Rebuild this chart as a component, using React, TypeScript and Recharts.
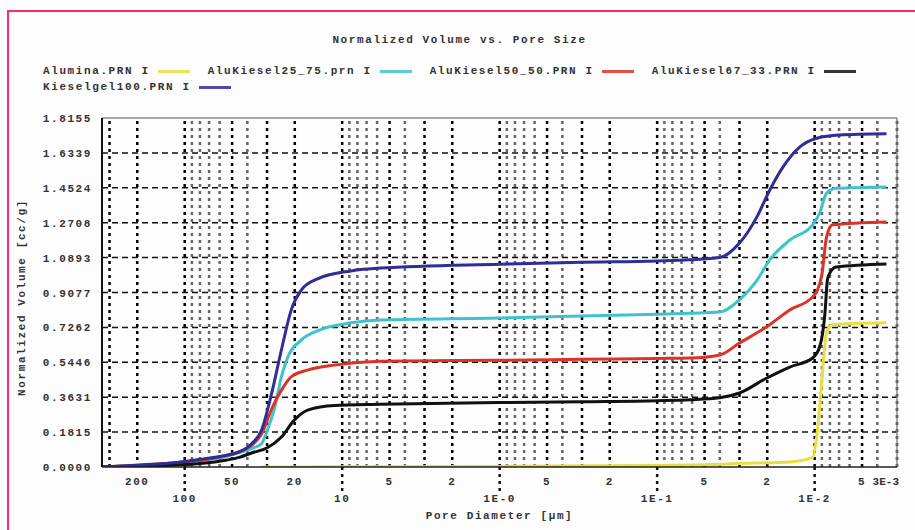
import { LineChart, Line, XAxis, YAxis, ReferenceLine, Legend } from "recharts";

const FONT = '"Liberation Mono", "DejaVu Sans Mono", monospace';

// x axis: pore diameter in µm, log scale, reversed
const X_TICKS = [200, 100, 50, 20, 10, 5, 2, 1, 0.5, 0.2, 0.1, 0.05, 0.02, 0.01, 0.005, 0.003];
const X_LABELS = ["200", "100", "50", "20", "10", "5", "2", "1E-0", "5", "2", "1E-1", "5", "2", "1E-2", "5", "3E-3"];
const X_DECADES = [100, 10, 1, 0.1, 0.01];
const X_DOMAIN = [0.003, 335];

const Y_TICKS = [0, 0.1815, 0.3631, 0.5446, 0.7262, 0.9077, 1.0893, 1.2708, 1.4524, 1.6339, 1.8155];
const Y_LABELS = ["0.0000", "0.1815", "0.3631", "0.5446", "0.7262", "0.9077", "1.0893", "1.2708", "1.4524", "1.6339", "1.8155"];

const GRID_STEPS = [1, 2, 3, 4, 5, 6, 7, 8, 9];
const GRID_DECADES = [100, 10, 1, 0.1, 0.01, 0.001];
const GRID_DARK = [1, 2, 3, 5];

const alumina = [
  { d: 32, v: 0 }, { d: 10, v: 0.001 }, { d: 1, v: 0.003 }, { d: 0.1, v: 0.008 },
  { d: 0.05, v: 0.012 }, { d: 0.03, v: 0.018 }, { d: 0.0144, v: 0.026 }, { d: 0.0103, v: 0.05 },
  { d: 0.0096, v: 0.19 }, { d: 0.009, v: 0.45 }, { d: 0.0084, v: 0.7 }, { d: 0.0077, v: 0.74 },
  { d: 0.0035, v: 0.75 },
];

const kiesel25 = [
  { d: 335, v: 0 }, { d: 250, v: 0.004 }, { d: 180, v: 0.01 }, { d: 126, v: 0.017 },
  { d: 80, v: 0.033 }, { d: 55, v: 0.055 }, { d: 45, v: 0.075 }, { d: 38, v: 0.095 },
  { d: 32.6, v: 0.12 }, { d: 29.9, v: 0.19 }, { d: 26.8, v: 0.31 }, { d: 24.3, v: 0.47 },
  { d: 22.2, v: 0.57 }, { d: 18.2, v: 0.66 }, { d: 14.2, v: 0.71 }, { d: 8.8, v: 0.75 },
  { d: 5.7, v: 0.765 }, { d: 1, v: 0.775 }, { d: 0.3, v: 0.785 }, { d: 0.1, v: 0.795 },
  { d: 0.062, v: 0.8 }, { d: 0.04, v: 0.806 }, { d: 0.03, v: 0.87 }, { d: 0.0233, v: 0.97 },
  { d: 0.0193, v: 1.077 }, { d: 0.0144, v: 1.18 }, { d: 0.0103, v: 1.26 }, { d: 0.0093, v: 1.32 },
  { d: 0.0084, v: 1.425 }, { d: 0.0073, v: 1.45 }, { d: 0.0035, v: 1.457 },
];

const kiesel50 = [
  { d: 335, v: 0 }, { d: 250, v: 0.005 }, { d: 180, v: 0.01 }, { d: 126, v: 0.02 },
  { d: 80, v: 0.035 }, { d: 55, v: 0.06 }, { d: 45, v: 0.08 }, { d: 38, v: 0.11 },
  { d: 32.6, v: 0.17 }, { d: 28.1, v: 0.3 }, { d: 24.3, v: 0.4 }, { d: 21, v: 0.47 },
  { d: 16.4, v: 0.505 }, { d: 11.2, v: 0.53 }, { d: 5.7, v: 0.55 }, { d: 1, v: 0.555 },
  { d: 0.3, v: 0.56 }, { d: 0.1, v: 0.565 }, { d: 0.062, v: 0.567 }, { d: 0.04, v: 0.583 },
  { d: 0.03, v: 0.645 }, { d: 0.0201, v: 0.73 }, { d: 0.0144, v: 0.817 }, { d: 0.0103, v: 0.885 },
  { d: 0.0096, v: 0.92 }, { d: 0.009, v: 1.0 }, { d: 0.0084, v: 1.197 }, { d: 0.0077, v: 1.26 },
  { d: 0.0035, v: 1.275 },
];

const kiesel67 = [
  { d: 335, v: 0 }, { d: 200, v: 0.003 }, { d: 126, v: 0.008 }, { d: 80, v: 0.018 },
  { d: 55, v: 0.035 }, { d: 45, v: 0.05 }, { d: 37.7, v: 0.073 }, { d: 29.9, v: 0.1 },
  { d: 24.3, v: 0.156 }, { d: 20.1, v: 0.245 }, { d: 16.4, v: 0.297 }, { d: 11.2, v: 0.32 },
  { d: 5.7, v: 0.326 }, { d: 1, v: 0.335 }, { d: 0.3, v: 0.34 }, { d: 0.1, v: 0.345 },
  { d: 0.062, v: 0.35 }, { d: 0.04, v: 0.36 }, { d: 0.03, v: 0.385 }, { d: 0.0201, v: 0.463 },
  { d: 0.0144, v: 0.52 }, { d: 0.0103, v: 0.567 }, { d: 0.0093, v: 0.624 }, { d: 0.0086, v: 0.8 },
  { d: 0.0083, v: 0.973 }, { d: 0.008, v: 1.01 }, { d: 0.0073, v: 1.04 }, { d: 0.0035, v: 1.056 },
];

const kieselgel100 = [
  { d: 335, v: 0 }, { d: 250, v: 0.005 }, { d: 180, v: 0.012 }, { d: 126, v: 0.02 },
  { d: 80, v: 0.04 }, { d: 55, v: 0.06 }, { d: 48, v: 0.07 }, { d: 37.7, v: 0.12 },
  { d: 32.6, v: 0.19 }, { d: 28.1, v: 0.38 }, { d: 24.3, v: 0.61 }, { d: 21, v: 0.82 },
  { d: 18.2, v: 0.92 }, { d: 14.2, v: 0.98 }, { d: 8.8, v: 1.02 }, { d: 5.7, v: 1.035 },
  { d: 1, v: 1.055 }, { d: 0.3, v: 1.065 }, { d: 0.1, v: 1.072 }, { d: 0.062, v: 1.078 },
  { d: 0.04, v: 1.09 }, { d: 0.03, v: 1.165 }, { d: 0.0233, v: 1.3 }, { d: 0.0193, v: 1.44 },
  { d: 0.0159, v: 1.56 }, { d: 0.0124, v: 1.665 }, { d: 0.0097, v: 1.71 }, { d: 0.007, v: 1.727 },
  { d: 0.0035, v: 1.733 },
];

const SERIES = [
  { name: "Alumina.PRN I", data: alumina, color: "#e6df3c" },
  { name: "AluKiesel25_75.prn I", data: kiesel25, color: "#3ec3cc" },
  { name: "AluKiesel50_50.PRN I", data: kiesel50, color: "#de3226" },
  { name: "AluKiesel67_33.PRN I", data: kiesel67, color: "#111111" },
  { name: "Kieselgel100.PRN I", data: kieselgel100, color: "#2f2d96" },
];

const gridX = GRID_DECADES.flatMap(dec => GRID_STEPS.map(s => ({ v: s * dec, dark: GRID_DARK.includes(s) })))
  .filter(g => g.v >= X_DOMAIN[0] - 1e-9 && g.v <= X_DOMAIN[1]);

const txt = { fontFamily: FONT, fontWeight: 700, fontSize: 11, letterSpacing: "1.6px", fill: "#333" };

const same = (a: number, b: number) => Math.abs(a - b) < 1e-9;

const XTick = (props: any) => {
  const { x, y, payload } = props;
  const i = X_TICKS.findIndex(t => same(t, payload.value));
  const decade = X_DECADES.some(t => same(t, payload.value));
  const last = i === X_TICKS.length - 1;
  return (
    <g>
      {decade && <line x1={x} x2={x} y1={y} y2={y + 24} stroke="#111" strokeWidth={2.5} strokeDasharray="3 4" />}
      <text
        x={last ? x + 2 : x} y={decade ? y + 35 : y + 18} textAnchor={last ? "end" : "middle"}
        style={last ? { ...txt, letterSpacing: "0px" } : txt}
      >
        {X_LABELS[i]}
      </text>
    </g>
  );
};

const YTick = (props: any) => {
  const { x, y, payload } = props;
  const i = Y_TICKS.findIndex(t => same(t, payload.value));
  return (
    <text x={x - 10} y={y + 4} textAnchor="end" style={txt}>{Y_LABELS[i]}</text>
  );
};

const renderLegend = (props: any) => {
  const order = SERIES.map(s => s.name);
  const items = [...(props.payload || [])].sort((a: any, b: any) => order.indexOf(a.value) - order.indexOf(b.value));
  const item = (p: any) => (
    <span key={p.value} style={{ display: "inline-flex", alignItems: "center", marginRight: 18 }}>
      <span>{p.value}</span>
      <span style={{ display: "inline-block", width: 32, height: 3, background: p.color, marginLeft: 8, opacity: 0.85 }} />
    </span>
  );
  return (
    <div style={{ fontFamily: FONT, fontWeight: 700, fontSize: 11, letterSpacing: "1.6px", color: "#333", whiteSpace: "nowrap" }}>
      <div style={{ textAlign: "center", height: 16, lineHeight: "16px", paddingLeft: 4 }}>Normalized Volume vs. Pore Size</div>
      <div style={{ height: 15 }} />
      <div style={{ paddingLeft: 43, height: 16, lineHeight: "16px" }}>{items.slice(0, 4).map(item)}</div>
      <div style={{ paddingLeft: 43, height: 16, lineHeight: "16px" }}>{items.slice(4).map(item)}</div>
    </div>
  );
};

export default function App() {
  return (
    <div style={{ position: "absolute", left: 0, top: 0, width: 915, height: 530, background: "#fdfdfd", overflow: "hidden" }}>
      <div style={{ position: "absolute", left: 7, top: 10, width: 908, height: 520, borderLeft: "2px solid #f2306a", borderTop: "2px solid #f2306a" }} />
      <LineChart width={915} height={530} margin={{ top: 118, right: 18, bottom: 13, left: 0 }}>
        <XAxis
          type="number" dataKey="d" scale="log" domain={X_DOMAIN} reversed allowDataOverflow
          ticks={X_TICKS} interval={0} tick={<XTick />} tickLine={false} tickSize={0} tickMargin={0}
          axisLine={{ stroke: "#222", strokeWidth: 1.5 }} height={50}
          label={{ value: "Pore Diameter [µm]", position: "insideBottom", offset: -2, style: { ...txt, textAnchor: "middle" } }}
        />
        <YAxis
          type="number" domain={[0, 1.8155]} ticks={Y_TICKS} interval={0} allowDataOverflow
          tick={<YTick />} tickLine={false} tickSize={0} tickMargin={0} width={102}
          axisLine={{ stroke: "#111", strokeWidth: 2 }}
          label={{
            content: (p: any) => {
              const vb = p.viewBox;
              const cx = vb.x + 22;
              const cy = vb.y + vb.height / 2 + 5;
              return (
                <text x={cx} y={cy} textAnchor="middle" dominantBaseline="central" transform={`rotate(-90, ${cx}, ${cy})`} style={txt}>
                  Normalized Volume [cc/g]
                </text>
              );
            },
          }}
        />
        {gridX.map(g => (
          <ReferenceLine key={"gx" + g.v} x={g.v} stroke={g.dark ? "#000" : "#666"} strokeWidth={2.5} strokeDasharray="3 4" />
        ))}
        {Y_TICKS.slice(1, -1).map(t => (
          <ReferenceLine key={"gy" + t} y={t} stroke="#111" strokeWidth={1.5} strokeDasharray="6 4" />
        ))}
        <ReferenceLine y={1.8155} stroke="#888" strokeWidth={1.5} />
        <ReferenceLine x={0.003} stroke="#888" strokeWidth={1.5} />
        {SERIES.map(s => (
          <Line
            key={s.name} name={s.name} data={s.data} dataKey="v" type="monotone"
            stroke={s.color} strokeWidth={3} dot={false} activeDot={false} isAnimationActive={false}
          />
        ))}
        <Legend
          content={renderLegend} verticalAlign="middle" align="center" layout="horizontal"
          wrapperStyle={{ top: 32, left: 0, width: 915 }}
        />
      </LineChart>
    </div>
  );
}
